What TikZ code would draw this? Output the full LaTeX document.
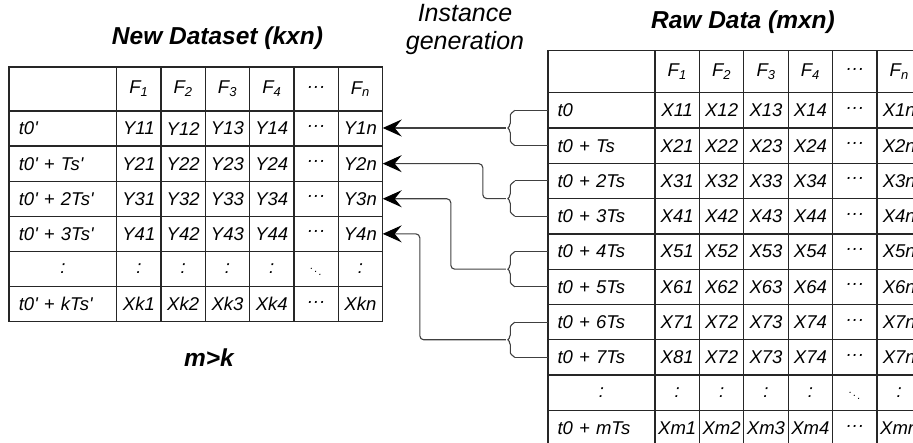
\documentclass[tikz,border=0pt]{standalone}
\usepackage{fontspec}
\setmainfont{Liberation Sans}
\usetikzlibrary{arrows.meta,decorations.pathreplacing,calc}

\newcommand\pr{\textquotesingle}
\newcommand\Fi[1]{F\textsubscript{#1}}
\newcommand\midots{\textperiodcentered\textperiodcentered\textperiodcentered}
\newcommand\diagdots{{\fontsize{11}{11}\selectfont$\ddots$}}
\newcommand\vdotc{\makebox[88pt]{:}}

\tikzset{
  cell/.style={font=\itshape\fontsize{18.5}{21}\selectfont, inner sep=0pt,
    minimum width=44.3pt, minimum height=35pt},
  lab/.style={text width=88pt, align=left, minimum width=107pt},
  grid/.style={line width=1.3pt, black!85},
  heading/.style={font=\bfseries\itshape\fontsize{24.5}{28}\selectfont},
  link/.style={line width=1.1pt, black!75, rounded corners=4pt},
  flow/.style={-{Stealth[length=19pt,width=17pt,inset=7pt,black]}},
  curly/.style={decorate, decoration={brace, amplitude=9pt}},
}

\begin{document}
\begin{tikzpicture}[x=1pt, y=-1pt]
  \useasboundingbox (0,0) rectangle (913,443);
  \clip (0,0) rectangle (913,443);

  % titles
  \node[heading, anchor=base] (newtitle) at (217.5,45) {New Dataset (kxn)};
  \node[heading, anchor=base] (rawtitle) at (743,29) {Raw Data (mxn)};
  \node[font=\itshape\fontsize{25}{28}\selectfont, align=center, anchor=base] (gen) at (465,50) {Instance\\generation};
  \node[heading, anchor=base] (cond) at (209,367) {m>k};

  % new dataset, left table
  \draw[grid] (9,67) rectangle (382.5,321.7);
  \foreach \k in {0,...,5}
    \draw[grid] (9,111+35.1*\k) -- (382.5,111+35.1*\k);
  \foreach \k in {0,...,5}
    \draw[grid] (116.7+44.3*\k,67) -- (116.7+44.3*\k,321.7);
  \foreach \cells [count=\r from 0] in {
      {{}, \Fi1, \Fi2, \Fi3, \Fi4, \midots, \Fi n},
      {t0\pr, Y11, Y12, Y13, Y14, \midots, Y1n},
      {t0\pr{} + Ts\pr, Y21, Y22, Y23, Y24, \midots, Y2n},
      {t0\pr{} + 2Ts\pr, Y31, Y32, Y33, Y34, \midots, Y3n},
      {t0\pr{} + 3Ts\pr, Y41, Y42, Y43, Y44, \midots, Y4n},
      {\vdotc, :, :, :, :, \diagdots, :},
      {t0\pr{} + kTs\pr, Xk1, Xk2, Xk3, Xk4, \midots, Xkn}}{
    \pgfmathsetmacro\y{\r==0 ? 89 : 111+35.1*(\r-0.5)}
    \foreach \entry [count=\c from 0] in \cells {
      \ifnum\c=0
        \node[cell, lab] (nd-\r-\c) at (62.85,\y) {\entry};
      \else
        \pgfmathsetmacro\x{116.7+44.3*(\c-0.5)}
        \node[cell] (nd-\r-\c) at (\x,\y) {\entry};
      \fi
    }
  }

  % raw data, right table
  \draw[grid] (548,50.5) rectangle (965,445.7);
  \foreach \k in {0,...,9}
    \draw[grid] (548,92.7+35.3*\k) -- (965,92.7+35.3*\k);
  \foreach \k in {0,...,6}
    \draw[grid] (655+44.4*\k,50.5) -- (655+44.4*\k,445.7);
  \foreach \cells [count=\r from 0] in {
      {{}, \Fi1, \Fi2, \Fi3, \Fi4, \midots, \Fi n},
      {t0, X11, X12, X13, X14, \midots, X1n},
      {t0 + Ts, X21, X22, X23, X24, \midots, X2n},
      {t0 + 2Ts, X31, X32, X33, X34, \midots, X3n},
      {t0 + 3Ts, X41, X42, X43, X44, \midots, X4n},
      {t0 + 4Ts, X51, X52, X53, X54, \midots, X5n},
      {t0 + 5Ts, X61, X62, X63, X64, \midots, X6n},
      {t0 + 6Ts, X71, X72, X73, X74, \midots, X7n},
      {t0 + 7Ts, X81, X72, X73, X74, \midots, X7n},
      {\vdotc, :, :, :, :, \diagdots, :},
      {t0 + mTs, Xm1, Xm2, Xm3, Xm4, \midots, Xmn}}{
    \pgfmathsetmacro\y{\r==0 ? 71.6 : 92.7+35.3*(\r-0.5)}
    \foreach \entry [count=\c from 0] in \cells {
      \ifnum\c=0
        \node[cell, lab] (rd-\r-\c) at (601.5,\y) {\entry};
      \else
        \pgfmathsetmacro\x{655+44.4*(\c-0.5)}
        \node[cell] (rd-\r-\c) at (\x,\y) {\entry};
      \fi
    }
  }

  % braces joining two raw rows
  \foreach \i in {1,...,4}{
    \pgfmathtruncatemacro\a{2*\i-1}
    \pgfmathtruncatemacro\b{2*\i}
    \draw[link] (rd-\a-0.west) -- ++(-33,0) coordinate (top\i);
    \draw[link] (rd-\b-0.west) -- ++(-33,0) coordinate (bot\i);
    \draw[link, curly] (bot\i) -- (top\i);
    \coordinate (tip\i) at ($(top\i)!.5!(bot\i)+(-9,0)$);
  }

  % instance generation
  \draw[link, flow] (tip1) -- (tip1 -| nd-1-6.east);
  \draw[link, flow] (tip2) -- ++(-23,0) |- (nd-2-6.east);
  \draw[link, flow] (tip3) -- ++(-55,0) |- (nd-3-6.east);
  \draw[link, flow] (tip4) -- ++(-86,0) |- (nd-4-6.east);
\end{tikzpicture}
\end{document}
